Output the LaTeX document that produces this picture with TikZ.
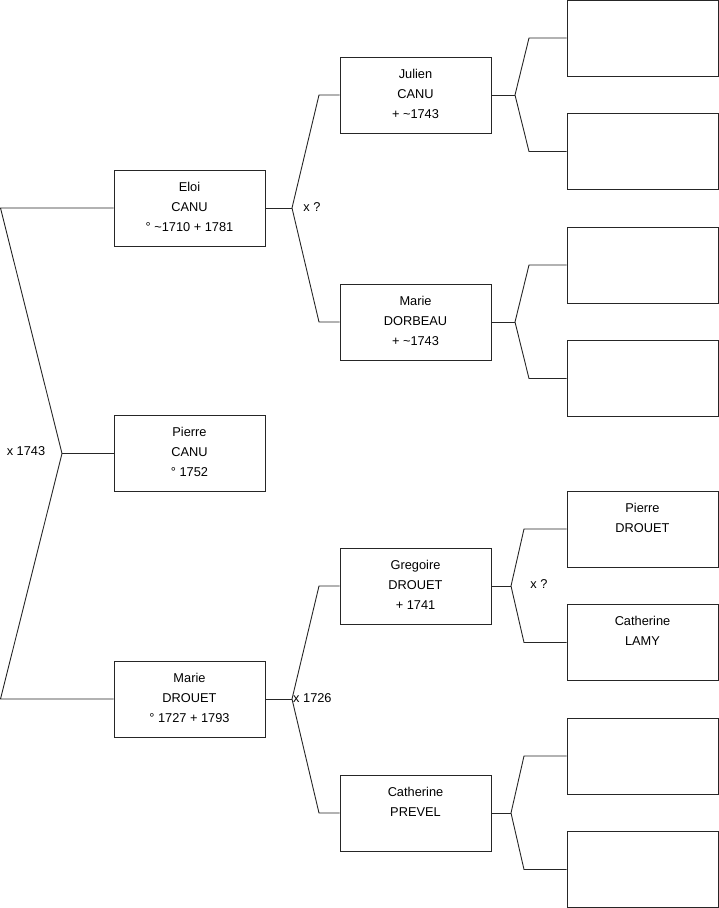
\documentclass[tikz,border=0pt]{standalone}
\usepackage{fontspec}
\setmainfont{Liberation Sans}
\begin{document}
\begin{tikzpicture}[x=1pt,y=-1pt,
  person/.style={draw=black!85,line width=0.9pt,rectangle,minimum width=151pt,minimum height=76pt,inner sep=0pt,align=center,
    text depth=3pt,font=\fontsize{12.8}{20}\selectfont},
  link/.style={draw=black!85,line width=0.9pt},
  lbl/.style={font=\fontsize{12.8}{15}\selectfont,inner sep=0pt}]
\useasboundingbox (0,0) rectangle (719,908);
% column 1
\node[person] (eloi) at (189.5,208) {Eloi\\CANU\\° \textasciitilde1710 + 1781};
\node[person] (pierre) at (189.5,453.5) {Pierre\\CANU\\° 1752};
\node[person] (marie) at (189.5,699) {Marie\\DROUET\\° 1727 + 1793};
% column 2
\node[person] (julien) at (415.5,95) {Julien\\CANU\\+ \textasciitilde1743};
\node[person] (dorbeau) at (415.5,322) {Marie\\DORBEAU\\+ \textasciitilde1743};
\node[person] (gregoire) at (415.5,586) {Gregoire\\DROUET\\+ 1741};
\node[person] (prevel) at (415.5,813) {Catherine\\PREVEL\\\mbox{}};
% column 3
\node[person] (r1) at (642.5,38) {};
\node[person] (r2) at (642.5,151.5) {};
\node[person] (r3) at (642.5,265) {};
\node[person] (r4) at (642.5,378.5) {};
\node[person] (pdrouet) at (642.5,529) {Pierre\\DROUET\\\mbox{}};
\node[person] (lamy) at (642.5,642.5) {Catherine\\LAMY\\\mbox{}};
\node[person] (r7) at (642.5,756) {};
\node[person] (r8) at (642.5,869.5) {};
% level 1 bracket
\coordinate (a1) at (0.5,208);
\coordinate (a2) at (62,453.5);
\coordinate (a3) at (0.5,699);
\draw[link] (eloi.west) -- (a1) -- (a2) -- (a3) -- (marie.west);
\draw[link] (a2) -- (pierre.west);
\node[lbl] (m1743) at (26,451.5) {x 1743};
% Eloi bracket
\coordinate (b0) at (292,208);
\coordinate (b1) at (319,95);
\coordinate (b2) at (319,322);
\draw[link] (eloi.east) -- (b0);
\draw[link] (julien.west) -- (b1) -- (b0) -- (b2) -- (dorbeau.west);
\node[lbl] (mq1) at (312,207) {x ?};
% Marie bracket
\coordinate (c0) at (292,699);
\coordinate (c1) at (319,586);
\coordinate (c2) at (319,813);
\draw[link] (marie.east) -- (c0);
\draw[link] (gregoire.west) -- (c1) -- (c0) -- (c2) -- (prevel.west);
\node[lbl,anchor=west] (m1726) at (293,698) {x 1726};
% Julien bracket
\coordinate (d0) at (515,95);
\coordinate (d1) at (529,38);
\coordinate (d2) at (529,151.5);
\draw[link] (julien.east) -- (d0);
\draw[link] (r1.west) -- (d1) -- (d0) -- (d2) -- (r2.west);
% Dorbeau bracket
\coordinate (e0) at (515,322);
\coordinate (e1) at (529,265);
\coordinate (e2) at (529,378.5);
\draw[link] (dorbeau.east) -- (e0);
\draw[link] (r3.west) -- (e1) -- (e0) -- (e2) -- (r4.west);
% Gregoire bracket
\coordinate (f0) at (511,586);
\coordinate (f1) at (524,529);
\coordinate (f2) at (524,642.5);
\draw[link] (gregoire.east) -- (f0);
\draw[link] (pdrouet.west) -- (f1) -- (f0) -- (f2) -- (lamy.west);
\node[lbl] (mq2) at (539,584) {x ?};
% Prevel bracket
\coordinate (g0) at (511,813);
\coordinate (g1) at (524,756);
\coordinate (g2) at (524,869.5);
\draw[link] (prevel.east) -- (g0);
\draw[link] (r7.west) -- (g1) -- (g0) -- (g2) -- (r8.west);
\end{tikzpicture}
\end{document}
